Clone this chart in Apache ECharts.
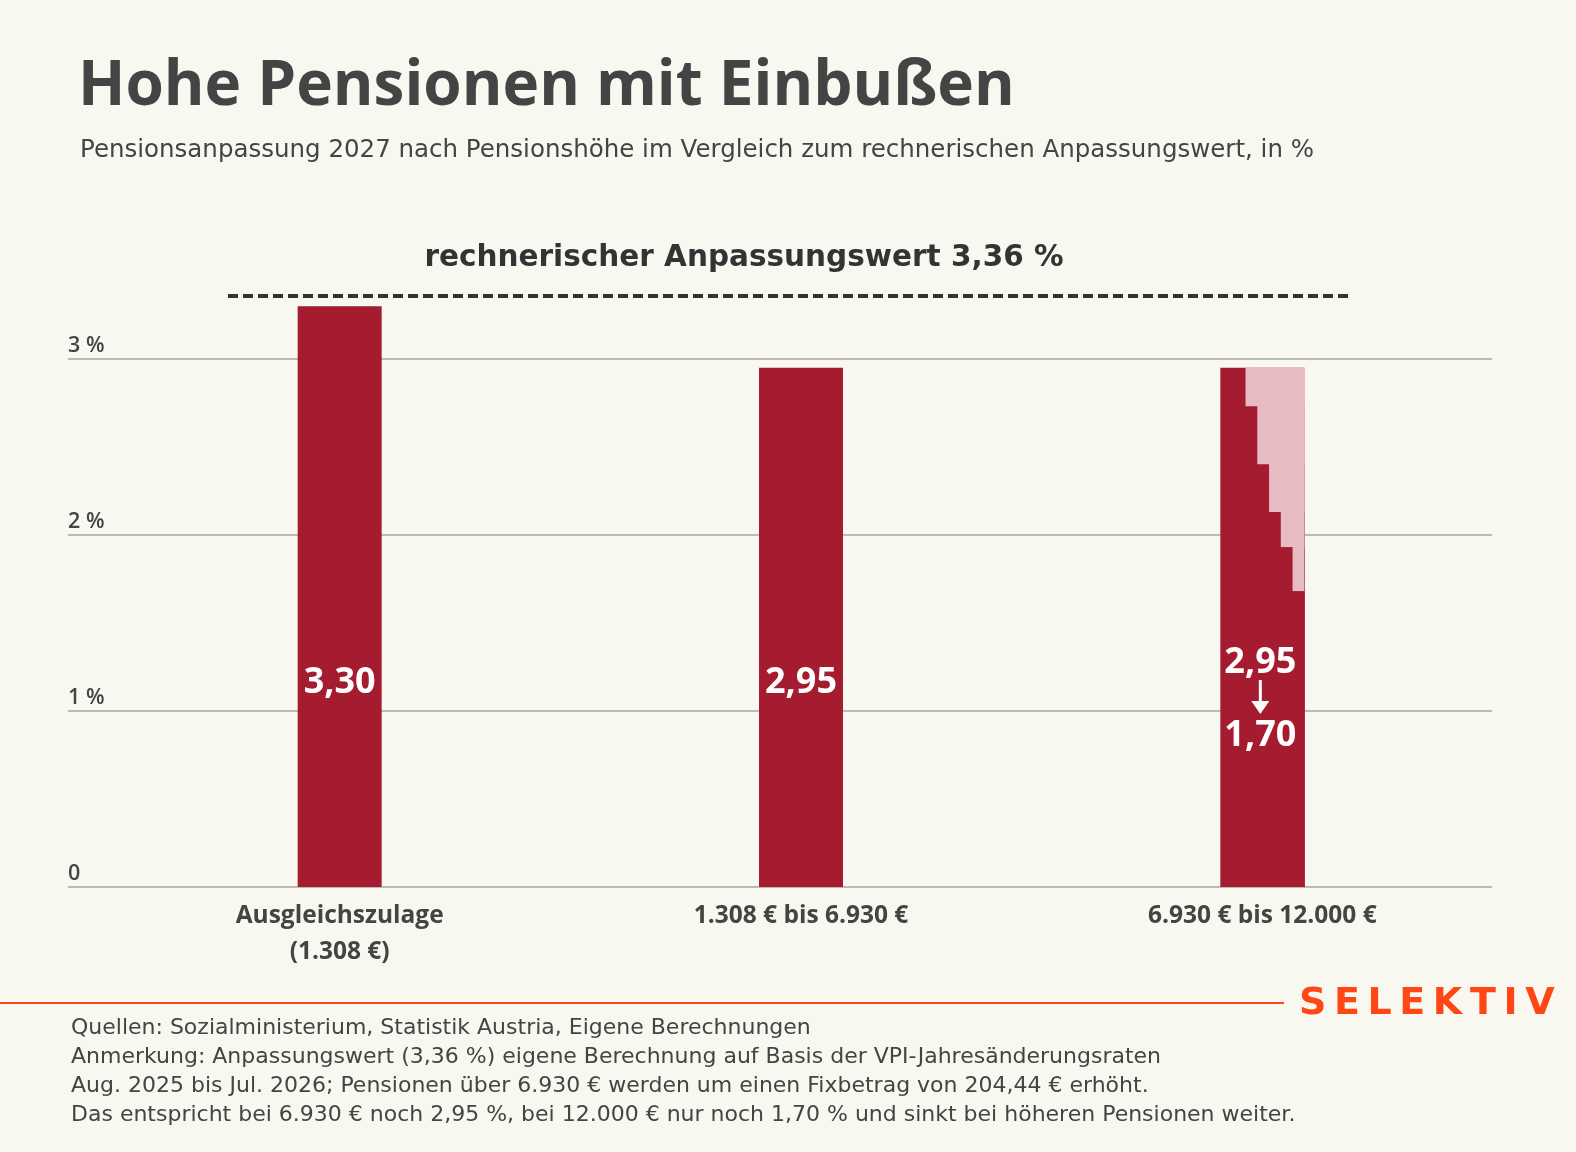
<!DOCTYPE html>
<html><head><meta charset="utf-8">
<script src="https://cdn.jsdelivr.net/npm/echarts@6/dist/echarts.min.js"></script>
<style>html,body{margin:0;padding:0;background:#f8f7f0}#c{width:1576px;height:1152px}</style>
</head><body><div id="c"></div><script>
// ---- data ----
const categories = ['Ausgleichszulage\n(1.308 €)', '1.308 € bis 6.930 €', '6.930 € bis 12.000 €'];
const barValues = [3.30, 2.95, '-'];
const stepCategory = 2;
const stepValues = [2.95, 2.73, 2.40, 2.13, 1.93, 1.68];
const stepLabelFrom = '2,95';
const stepLabelTo = '1,70';
const referenceValue = 3.36;
const yTickValues = [0, 1, 2, 3];
const titleText = 'Hohe Pensionen mit Einbußen';
const subtitleText = 'Pensionsanpassung 2027 nach Pensionshöhe im Vergleich zum rechnerischen Anpassungswert, in %';
const footerLines = [
  'Quellen: Sozialministerium, Statistik Austria, Eigene Berechnungen',
  'Anmerkung: Anpassungswert (3,36 %) eigene Berechnung auf Basis der VPI-Jahresänderungsraten',
  'Aug. 2025 bis Jul. 2026; Pensionen über 6.930 € werden um einen Fixbetrag von 204,44 € erhöht.',
  'Das entspricht bei 6.930 € noch 2,95 %, bei 12.000 € nur noch 1,70 % und sinkt bei höheren Pensionen weiter.'
];

const FONT = '"Open Sans"';
const WIDE = '"DejaVu Sans"';
const DARK = '#a51b30', LIGHT = '#e6bcc2', TXT = '#444444', ORANGE = '#ff4614';
const fmt = v => v.toFixed(2).replace('.', ',');
const BAR_W = 84;

const chart = echarts.init(document.getElementById('c'));
const option = {
  backgroundColor: '#f8f7f0',
  animation: false,
  textStyle: { fontFamily: FONT },
  grid: [
    { left: 68, right: 84, top: 359, bottom: 265 },
    { left: 109, right: 83, top: 271, bottom: 265 },
    { left: 228, right: 226, top: 271, bottom: 265 }
  ],
  xAxis: [
    { gridIndex: 0, type: 'value', min: 0, max: 1, show: false },
    { gridIndex: 1, type: 'category', data: categories,
      axisLine: { show: false }, axisTick: { show: false },
      axisLabel: { color: TXT, fontFamily: FONT, fontWeight: 'bold', fontSize: 24.5, lineHeight: 36, margin: 11 } },
    { gridIndex: 2, type: 'category', data: ['ref'], show: false }
  ],
  yAxis: [
    { gridIndex: 0, type: 'value', min: yTickValues[0], max: yTickValues[yTickValues.length - 1], interval: 1,
      axisLine: { show: false }, axisTick: { show: false },
      splitLine: { show: true, lineStyle: { color: '#a8a6a0', width: 1.5 } },
      axisLabel: { inside: true, margin: 0, verticalAlign: 'bottom', padding: [0, 0, 2, 0],
        color: TXT, fontFamily: FONT, fontWeight: 600, fontSize: 21.5,
        formatter: v => v === 0 ? '0' : v + ' %' } },
    { gridIndex: 1, type: 'value', min: 0, max: 3.5, show: false },
    { gridIndex: 2, type: 'value', min: 0, max: 3.5, show: false }
  ],
  graphic: [
    { type: 'text', left: 78, top: 56, style: { text: titleText, fill: TXT, font: 'bold 62px ' + FONT } },
    { type: 'text', left: 80, top: 138, style: { text: subtitleText, fill: TXT, font: '24.5px ' + WIDE } },
    { type: 'text', x: 744, y: 258, style: { text: 'rechnerischer Anpassungswert ' + fmt(referenceValue) + ' %', fill: '#333', font: 'bold 29.5px ' + WIDE, align: 'center', verticalAlign: 'middle' } },
    { type: 'line', shape: { x1: 0, y1: 1003, x2: 1284, y2: 1003 }, style: { stroke: ORANGE, lineWidth: 2 } },
    { type: 'text', x: 1299, y: 1004, style: { text: 'S\u2009E\u2009L\u2009E\u2009K\u2009T\u2009I\u2009V', fill: ORANGE, font: 'bold 38px ' + WIDE, verticalAlign: 'middle' } },
    { type: 'text', x: 71, y: 1014, style: { text: footerLines.join('\n'), fill: TXT, font: '22px ' + WIDE, lineHeight: 29, verticalAlign: 'top' } }
  ],
  series: [
    { type: 'bar', xAxisIndex: 1, yAxisIndex: 1, data: barValues, barWidth: BAR_W,
      itemStyle: { color: DARK },
      label: { show: true, position: 'insideBottom', distance: 186, color: '#fff', fontFamily: FONT, fontWeight: 'bold', fontSize: 36,
        formatter: p => fmt(p.value) } },
    { type: 'custom', xAxisIndex: 1, yAxisIndex: 1,
      data: stepValues.map((v, i) => [stepCategory, v, i]),
      encode: { x: 0, y: 1 },
      renderItem: function (params, api) {
        const cat = api.value(0), v = api.value(1), idx = api.value(2);
        const base = api.coord([cat, 0]);
        const top = api.coord([cat, stepValues[0]]);
        const yv = api.coord([cat, v]);
        const left0 = base[0] - BAR_W / 2;
        const right0 = base[0] + BAR_W / 2;
        const firstW = BAR_W * 0.3, restW = BAR_W * 0.7 / (stepValues.length - 1);
        const x0 = idx === 0 ? left0 : left0 + firstW + (idx - 1) * restW;
        // each step is drawn from its start to the bar's right edge; later steps overdraw
        const children = [
          { type: 'rect', shape: { x: x0, y: top[1], width: right0 - x0, height: yv[1] - top[1] }, style: { fill: LIGHT } },
          { type: 'rect', shape: { x: x0, y: yv[1], width: right0 - x0, height: base[1] - yv[1] }, style: { fill: DARK } }
        ];
        if (idx === stepValues.length - 1) {
          const cx = base[0] - 2;
          children.push(
            { type: 'text', style: { x: cx, y: base[1] - 224, text: stepLabelFrom, fill: '#fff', font: 'bold 36px ' + FONT, align: 'center', verticalAlign: 'middle' }, z2: 10 },
            { type: 'line', shape: { x1: cx, y1: base[1] - 207, x2: cx, y2: base[1] - 182 }, style: { stroke: '#fff', lineWidth: 3 }, z2: 10 },
            { type: 'polygon', shape: { points: [[cx - 9, base[1] - 186], [cx + 9, base[1] - 186], [cx, base[1] - 173]] }, style: { fill: '#fff' }, z2: 10 },
            { type: 'text', style: { x: cx, y: base[1] - 151, text: stepLabelTo, fill: '#fff', font: 'bold 36px ' + FONT, align: 'center', verticalAlign: 'middle' }, z2: 10 }
          );
        }
        return { type: 'group', children };
      } },
    { type: 'line', xAxisIndex: 2, yAxisIndex: 2, data: [], symbol: 'none',
      markLine: { symbol: 'none', silent: true, label: { show: false },
        lineStyle: { type: [10, 5], width: 4, color: '#333' },
        data: [{ yAxis: referenceValue }] } }
  ]
};
chart.setOption(option);
</script></body></html>
